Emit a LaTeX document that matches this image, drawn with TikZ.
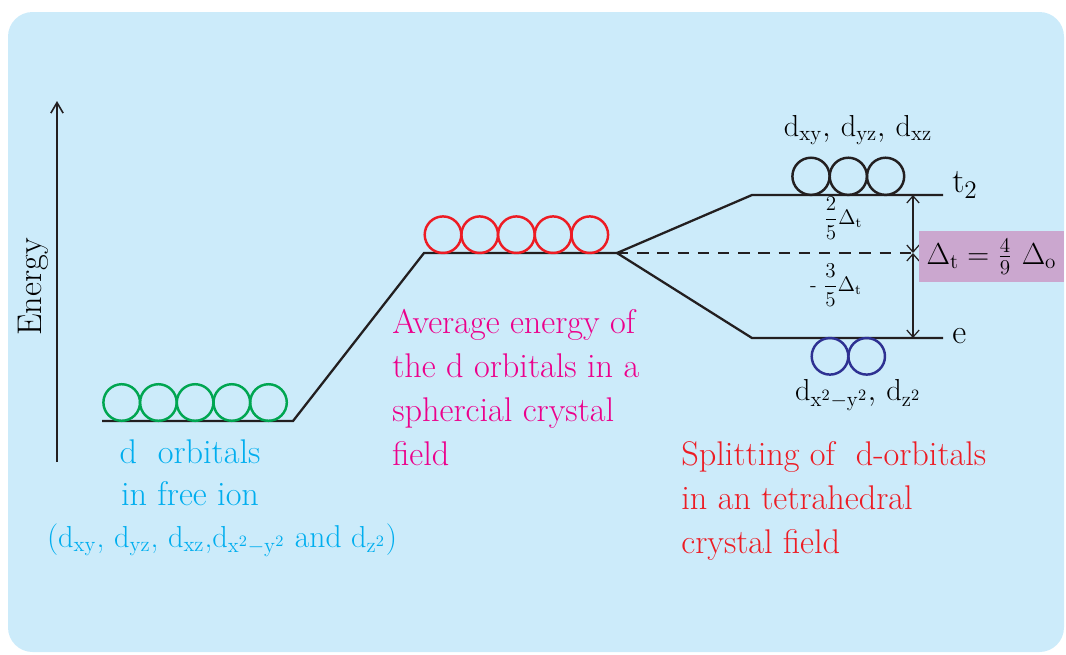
\documentclass[tikz,border=0pt]{standalone}
\usetikzlibrary{arrows.meta}
\definecolor{bgblue}{HTML}{CCEBFA}
\definecolor{orbgreen}{HTML}{00A651}
\definecolor{orbred}{HTML}{ED1C24}
\definecolor{orbblack}{HTML}{231F20}
\definecolor{orbblue}{HTML}{2E3192}
\definecolor{txtcyan}{HTML}{00AEEF}
\definecolor{txtpink}{HTML}{EC008C}
\definecolor{boxpurple}{HTML}{CBA7CF}
\begin{document}
\begin{tikzpicture}[x=0.02cm,y=-0.02cm,every node/.style={font=\fontsize{19.5}{25}\selectfont,inner sep=0pt},
  level/.style={line width=1.3pt,orbblack},orb/.style={line width=1.4pt},
  dlab/.style={font=\fontsize{18}{22}\selectfont},
  gap/.style={line width=0.7pt,orbblack,{Straight Barb[length=4pt,width=7pt]}-{Straight Barb[length=4pt,width=7pt]}}]
\useasboundingbox (0,0) rectangle (1066,654);
\fill[bgblue,rounded corners=14pt] (8,12) rectangle (1064,652);
% energy axis
\coordinate (ax0) at (57,462); \coordinate (ax1) at (57,101);
\draw[line width=0.9pt,orbblack,-{Straight Barb[length=6pt,width=7pt]}] (ax0) -- (ax1);
\node[rotate=90] (energy) at (33,287) {Energy};
% levels
\coordinate (g1) at (102,421); \coordinate (g2) at (293,421);
\coordinate (a1) at (424,253); \coordinate (a2) at (617,253);
\coordinate (t1) at (752,195); \coordinate (t2) at (943,195);
\coordinate (e1) at (752,338); \coordinate (e2) at (943,338);
\coordinate (mt) at (913,195); \coordinate (mm) at (913,253); \coordinate (me) at (913,338);
\draw[level] (g1) -- (g2) -- (a1) -- (a2);
\draw[level] (t2) -- (t1) -- (a2) -- (e1) -- (e2);
\draw[level,line width=1.1pt,dash pattern=on 6.5pt off 5pt] (a2) -- (mm);
\draw[gap] (mt) -- (mm); \draw[gap] (mm) -- (me);
% orbitals
\foreach \i in {0,...,4} \draw[orb,orbgreen] (121.7+36.7*\i,402.5) circle (0.366cm);
\foreach \i in {0,...,4} \draw[orb,orbred] (443+36.7*\i,234.7) circle (0.366cm);
\foreach \i in {0,...,2} \draw[orb,orbblack] (811+37.3*\i,176.3) circle (0.372cm);
\foreach \i in {0,...,1} \draw[orb,orbblue] (830+36.7*\i,356.3) circle (0.366cm);
% labels
\node[dlab] (tlab) at (858,130) {$\mathrm{d_{xy}},\,\mathrm{d_{yz}},\,\mathrm{d_{xz}}$};
\node[dlab] (elab) at (858,395) {$\mathrm{d_{x^2-y^2}},\,\mathrm{d_{z^2}}$};
\node[anchor=west] (tt) at (952,185) {t$_2$};
\node[anchor=west] (ee) at (952,336) {e};
\node[font=\fontsize{11.5}{13}\selectfont] (up) at (843,218) {$\displaystyle\frac{2}{5}\Delta_\mathrm{t}$};
\node[font=\fontsize{11.5}{13}\selectfont] (dn) at (836,285) {-\ $\displaystyle\frac{3}{5}\Delta_\mathrm{t}$};
\node[fill=boxpurple,minimum width=2.9cm,minimum height=1.02cm,font=\fontsize{18}{22}\selectfont] (dt) at (991.5,256.5) {$\Delta_\mathrm{t} = \frac{4}{9}\ \Delta_\mathrm{o}$};
\node[anchor=base,text=txtcyan] (free1) at (190,463) {d~~orbitals};
\node[anchor=base,text=txtcyan] (free2) at (190,505) {in free ion};
\node[anchor=base,text=txtcyan,dlab] (free3) at (222,547) {($\mathrm{d_{xy}}$, $\mathrm{d_{yz}}$, $\mathrm{d_{xz}}$,$\mathrm{d_{x^2-y^2}}$ and $\mathrm{d_{z^2}}$)};
\node[anchor=north west,align=left,text=txtpink] (avg) at (392,309) {Average energy of\\the d orbitals in a\\sphercial crystal\\field};
\node[anchor=north west,align=left,text=orbred] (split) at (681,441) {Splitting of~~d-orbitals\\in an tetrahedral\\crystal field};
\end{tikzpicture}
\end{document}
